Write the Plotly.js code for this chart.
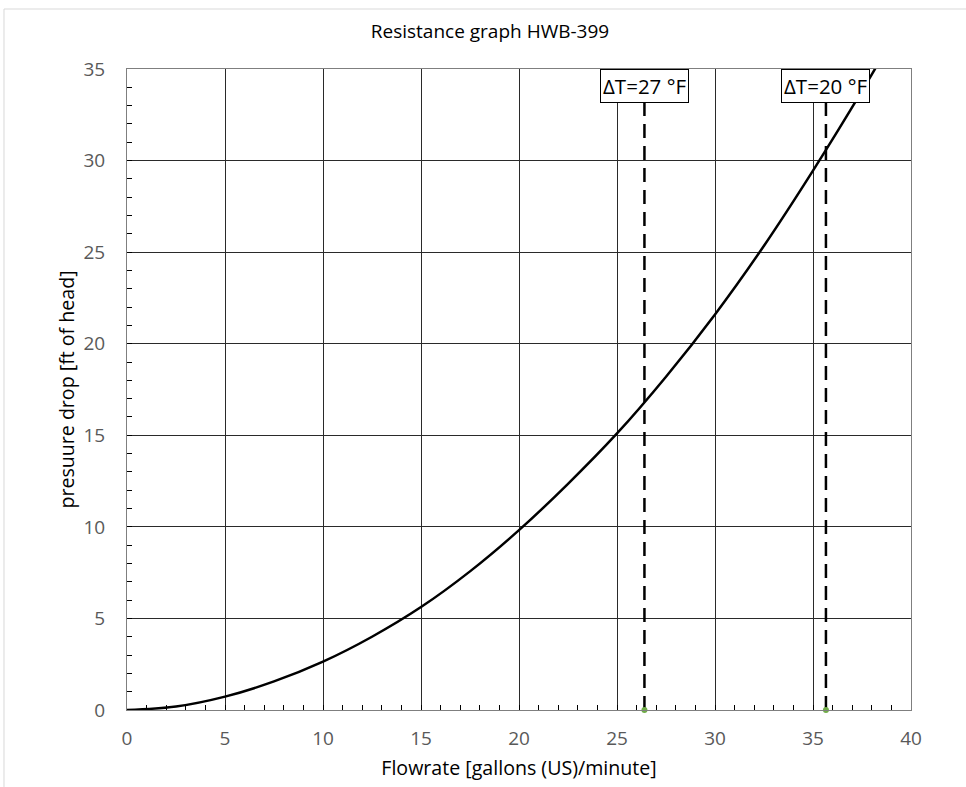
<!DOCTYPE html>
<html>
<head>
<meta charset="utf-8">
<script src="https://cdn.plot.ly/plotly-3.0.1.min.js"></script>
<style>
  html, body { margin: 0; padding: 0; background: #fff; }
  #chart { width: 966px; height: 787px; }
</style>
</head>
<body>
<div id="chart"></div>
<script>
// Flowrate [gallons (US)/minute] vs pressure drop [ft of head]
const flow = [0, 2.5, 5, 7.5, 10, 12.5, 15, 17.5, 20, 22.5, 25, 27.5, 30, 32.5, 35, 37.5, 40];
const drop = [0, 0.19, 0.73, 1.56, 2.64, 4.0, 5.62, 7.57, 9.82, 12.35, 15.1, 18.2, 21.6, 25.35, 29.45, 33.8, 38.4];

// ΔT marker lines
const dtFlow = [26.4, 35.66];
const dtLabels = ['ΔT=27 °F', 'ΔT=20 °F'];
const dtTop = 35;
const dtLabelY = 34.08;

const xTicks = [0, 5, 10, 15, 20, 25, 30, 35, 40];
const yTicks = [0, 5, 10, 15, 20, 25, 30, 35];

const FONT = '"Open Sans", "Noto Sans", sans-serif';

const traces = [];
dtFlow.forEach(function (fx) {
  traces.push({
    x: [fx, fx], y: [0, dtTop], mode: 'lines', type: 'scatter',
    line: { color: '#000000', width: 2.5, dash: '14px,8px' },
    hoverinfo: 'skip', showlegend: false
  });
});
traces.push({
  x: flow, y: drop, mode: 'lines', type: 'scatter',
  line: { color: '#000000', width: 2.5, shape: 'spline', smoothing: 1 },
  showlegend: false
});
traces.push({
  x: dtFlow, y: dtFlow.map(function () { return 0; }), mode: 'markers', type: 'scatter',
  marker: { color: '#70ad47', size: 6 }, cliponaxis: false, showlegend: false
});

const annotations = dtFlow.map(function (fx, i) {
  return {
    x: fx, y: dtLabelY, xref: 'x', yref: 'y', text: dtLabels[i], showarrow: false,
    xanchor: 'center', yanchor: 'middle',
    font: { family: FONT, size: 20.5, color: '#000000' },
    bgcolor: '#ffffff', bordercolor: '#000000', borderwidth: 1, borderpad: 2
  };
});

const axisCommon = {
  showline: true, linecolor: '#7f7f7f', linewidth: 1, mirror: true,
  showgrid: true, gridcolor: '#2a2a2a', gridwidth: 1,
  zeroline: false,
  ticks: 'inside', ticklen: 5, tickcolor: '#000000', tickwidth: 1,
  tickfont: { family: FONT, size: 19, color: '#595959' },
  minor: { dtick: 1, ticks: 'inside', ticklen: 5, tickcolor: '#000000', tickwidth: 1, showgrid: false },
  fixedrange: true
};

const layout = {
  width: 966, height: 787,
  margin: { l: 127, r: 55, t: 69, b: 77 },
  paper_bgcolor: '#ffffff', plot_bgcolor: '#ffffff',
  font: { family: FONT },
  title: {
    text: 'Resistance graph HWB-399',
    font: { family: FONT, size: 19, color: '#000000' },
    xref: 'paper', x: 0.463, xanchor: 'center',
    yref: 'container', y: 0.9606, yanchor: 'middle'
  },
  xaxis: Object.assign({}, axisCommon, {
    range: [0, 40], tickvals: xTicks, ticktext: xTicks.map(String),
    ticklabelstandoff: 11,
    title: { text: 'Flowrate [gallons (US)/minute]', font: { family: FONT, size: 19.6, color: '#000000' }, standoff: 11 }
  }),
  yaxis: Object.assign({}, axisCommon, {
    range: [0, 35], tickvals: yTicks, ticktext: yTicks.map(String),
    ticklabelstandoff: 17,
    title: { text: 'presuure drop [ft of head]', font: { family: FONT, size: 19.6, color: '#000000' }, standoff: 3 }
  }),
  annotations: annotations,
  shapes: [
    { type: 'line', xref: 'paper', yref: 'paper', x0: -0.1569, x1: 1.0702, y0: 1.0936, y1: 1.0936, line: { color: '#d9d9d9', width: 1 } },
    { type: 'line', xref: 'paper', yref: 'paper', x0: -0.1569, x1: -0.1569, y0: 1.0936, y1: -0.1201, line: { color: '#d9d9d9', width: 1 } }
  ],
  showlegend: false
};

Plotly.newPlot('chart', traces, layout, { displayModeBar: false, staticPlot: true });
</script>
</body>
</html>
